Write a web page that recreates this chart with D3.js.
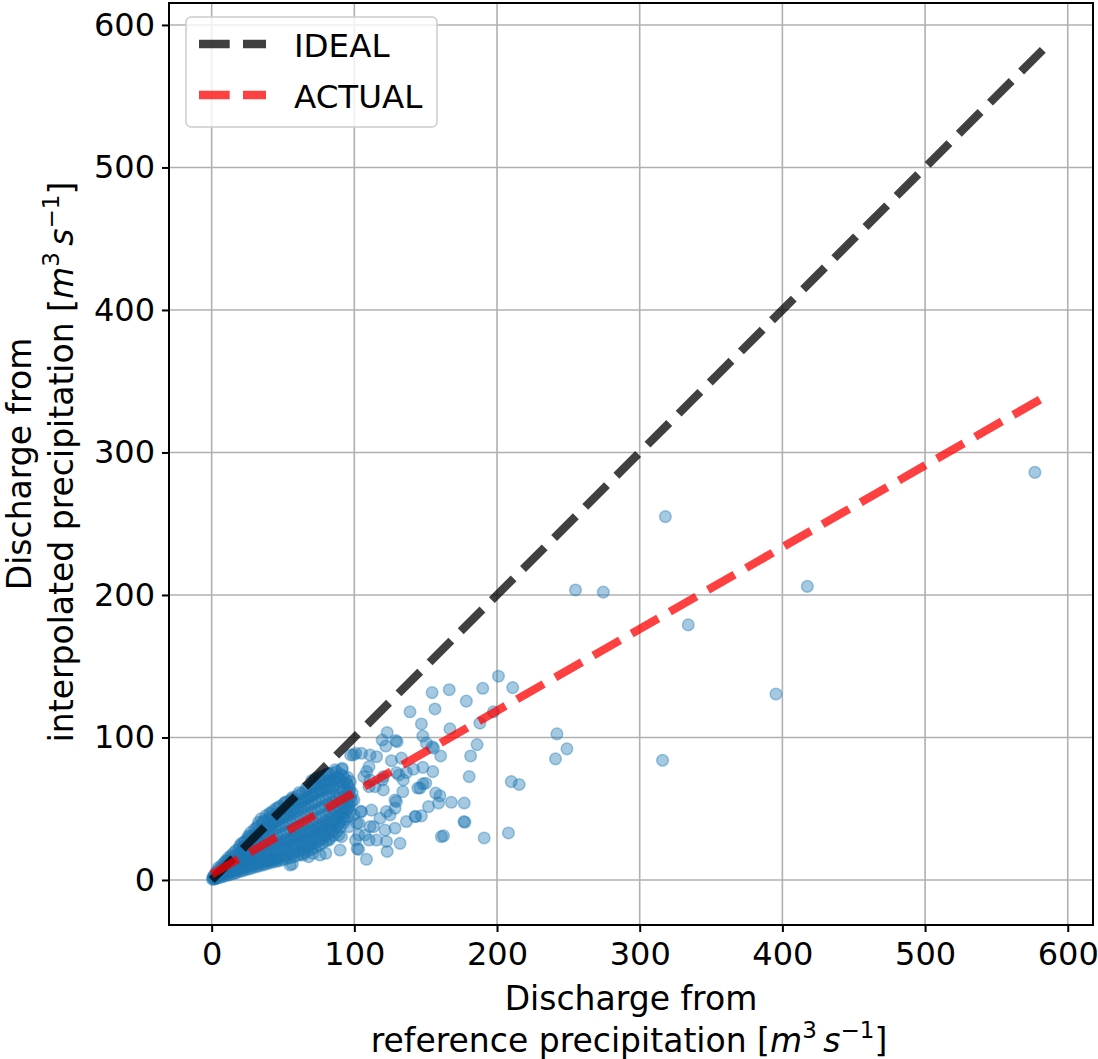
<!DOCTYPE html>
<html>
<head>
<meta charset="utf-8">
<script src="https://cdn.jsdelivr.net/npm/d3@7"></script>
<style>
body { margin: 0; background: #fff; }
text { font-family: "DejaVu Sans", sans-serif; fill: #000; }
</style>
</head>
<body>
<svg width="1098" height="1059"></svg>
<script>
// tick values
var xTicks = [0, 100, 200, 300, 400, 500, 600];
var yTicks = [0, 100, 200, 300, 400, 500, 600];

// fitted lines (start / end in data units)
var idealLine = [[0, 0], [584, 584]];
var actualLine = [[0, 4], [583, 338.5]];

// dense part of the cloud near the origin  [reference, interpolated]
var clusterPts = [
  [0.6,0.4],[1.2,1.1],[1.8,0.7],[0.9,1.9],[2.3,2.6],[1.5,3.1],
  [3.1,1.2],[2.8,2.9],[3.6,4.4],[3.3,5.8],[2.7,0.9],
  [5.2,1.6],[4.8,3.4],[5.5,5.2],[5.1,7.3],[4.6,8.5],
  [7.3,2.1],[6.8,4.2],[7.1,6.3],[7.5,8.4],[6.9,10.1],
  [9.2,2.8],[8.8,4.9],[9.4,7.1],[9.1,9.6],[8.7,11.8],[9.6,13.2],
  [11.3,3.3],[10.9,5.7],[11.5,8.2],[11.2,10.9],[10.8,13.4],[11.6,15.5],
  [13.2,3.9],[12.8,6.4],[13.5,9.1],[13.1,12.0],[12.7,14.6],[13.6,17.2],
  [15.4,4.4],[14.9,7.2],[15.2,10.3],[15.6,13.1],[14.8,16.0],[15.3,18.9],
  [17.1,5.0],[17.4,8.0],[16.8,11.2],[17.3,14.4],[17.6,17.5],[16.9,20.6],
  [19.2,5.8],[18.8,8.6],[19.5,12.0],[19.0,15.3],[19.4,18.6],[18.9,21.8],[19.6,24.0],
  [21.3,6.4],[20.9,9.3],[21.5,12.8],[21.1,16.2],[20.7,19.5],[21.4,22.9],[21.0,25.8],
  [23.2,7.0],[22.8,10.0],[23.4,13.6],[23.0,17.1],[23.6,20.5],[22.9,23.8],[23.3,27.3],
  [25.4,7.6],[24.9,10.6],[25.1,14.3],[25.6,18.0],[24.8,21.7],[25.3,25.1],[25.0,28.6],[25.7,31.0],
  [27.5,8.1],[27.1,11.0],[27.8,15.1],[27.3,19.0],[27.9,22.8],[27.2,26.5],[27.6,30.2],[27.4,33.4],
  [30.1,8.9],[29.7,11.6],[30.4,15.8],[29.9,20.0],[30.3,24.1],[29.8,28.2],[30.5,32.0],[30.0,35.7],
  [32.6,9.6],[32.2,12.3],[32.9,16.7],[32.4,21.0],[32.8,25.3],[32.1,29.6],[32.7,33.8],[32.3,37.9],[32.9,40.5],
  [35.2,10.3],[34.8,12.9],[35.4,17.4],[35.0,21.9],[35.6,26.4],[34.9,30.8],[35.3,35.1],[35.1,39.4],[34.7,43.0],
  [37.6,11.0],[37.2,13.5],[37.9,18.2],[37.4,22.9],[37.8,27.6],[37.1,32.3],[37.7,36.9],[37.3,41.2],[37.9,45.0],
  [40.2,11.8],[39.8,14.1],[40.5,19.0],[40.0,23.8],[40.4,28.7],[39.7,33.5],[40.3,38.2],[40.1,42.8],[40.6,46.9],
  [42.6,12.4],[42.2,14.8],[42.9,19.8],[42.4,24.8],[42.8,29.7],[42.1,34.6],[42.7,39.4],[42.3,44.1],[42.9,48.3],
  [45.3,13.0],[44.8,15.4],[45.5,20.6],[45.0,25.7],[45.4,30.8],[44.9,35.9],[45.2,40.9],[45.6,45.7],[45.1,50.2],
  [47.6,13.6],[47.2,16.1],[47.9,21.4],[47.4,26.6],[47.8,31.8],[47.1,37.0],[47.7,42.2],[47.3,47.2],[47.9,51.8],
  [50.2,14.2],[49.8,16.9],[50.4,22.2],[50.0,27.5],[50.5,32.9],[49.7,38.2],[50.3,43.5],[50.1,48.7],[50.6,53.4],
  [52.6,14.9],[52.2,17.6],[52.8,23.1],[52.4,28.5],[52.9,34.0],[52.1,39.4],[52.7,44.8],[52.3,50.1],[52.8,55.0],
  [55.2,15.6],[54.8,18.4],[55.5,24.0],[55.0,29.5],[55.4,35.1],[54.9,40.6],[55.3,46.1],[55.1,51.5],[55.6,56.3],
  [57.6,16.4],[57.2,19.2],[57.9,24.9],[57.4,30.5],[57.8,36.2],[57.1,41.8],[57.7,47.4],[57.3,52.9],[57.9,57.8],
  [60.3,17.2],[59.8,20.0],[60.5,25.8],[60.0,31.5],[60.4,37.3],[59.7,43.0],[60.2,48.7],[60.6,54.3],[60.1,59.0],
  [62.6,18.1],[62.2,20.9],[62.9,26.7],[62.4,32.5],[62.8,38.4],[62.1,44.2],[62.7,50.0],[62.3,55.7],[62.9,60.6],
  [65.2,19.2],[64.8,22.1],[65.5,27.6],[65.0,33.5],[65.4,39.4],[64.9,45.3],[65.3,51.2],[65.1,57.1],[65.6,62.4],
  [67.6,20.4],[67.2,23.3],[67.9,28.6],[67.4,34.5],[67.8,40.5],[67.1,46.4],[67.7,52.4],[67.3,58.3],[67.9,64.0],
  [70.2,21.6],[69.8,24.6],[70.4,29.8],[70.0,35.6],[70.5,41.6],[69.7,47.6],[70.3,53.6],[70.1,59.5],[70.6,65.5],[70.2,69.8],
  [72.6,22.9],[72.2,25.9],[72.8,31.1],[72.4,36.8],[72.9,42.8],[72.1,48.8],[72.7,54.8],[72.3,60.7],[72.8,66.6],[72.4,71.0],
  [75.3,24.3],[74.8,27.3],[75.5,32.4],[75.0,38.0],[75.4,44.0],[74.9,50.0],[75.2,56.0],[75.6,61.9],[75.1,67.6],[75.4,72.1],
  [77.6,25.8],[77.2,29.0],[77.9,34.0],[77.4,39.4],[77.8,45.2],[77.1,51.1],[77.7,57.0],[77.3,62.8],[77.9,68.4],[77.5,73.0],
  [80.2,27.4],[79.8,30.8],[80.4,35.8],[80.0,41.0],[80.5,46.5],[79.7,52.2],[80.3,58.0],[80.1,63.7],[80.6,69.2],[80.2,73.8],
  [82.6,29.2],[82.2,32.6],[82.8,37.6],[82.4,42.7],[82.9,48.0],[82.1,53.4],[82.7,59.0],[82.3,64.6],[82.8,70.0],[82.5,74.4],
  [85.2,31.0],[84.8,34.5],[85.5,39.4],[85.0,44.4],[85.4,49.5],[84.9,54.7],[85.3,60.0],[85.1,65.4],[85.6,70.7],[85.2,75.0],
  [87.6,33.5],[87.2,37.5],[87.9,42.2],[87.4,47.0],[87.8,51.9],[87.1,56.9],[87.7,62.0],[87.3,67.2],[87.9,72.3],[87.5,76.0],
  [90.2,36.8],[89.8,40.8],[90.4,45.3],[90.0,49.9],[90.5,54.6],[89.7,59.4],[90.3,64.3],[90.1,69.3],[90.6,74.0],
  [92.6,40.1],[92.2,44.6],[92.8,49.2],[92.4,53.8],[92.9,58.5],[92.1,63.4],[92.7,68.4],[92.3,73.0],
  [95.2,44.3],[94.8,48.7],[95.5,53.2],[95.0,57.9],[95.4,62.6],[94.9,67.4],[95.3,72.0],
  [97.1,47.5],[96.8,52.6],[97.3,58.1],[96.9,63.8],[97.2,69.0]
];

// more points read inside the core, between the ones above
var clusterFill = [
  [3.9,2.1],[6.1,3.1],[8.1,4.0],[10.1,4.6],[12.2,5.1],[14.1,5.8],[16.2,6.6],[18.1,7.1],
  [20.2,7.7],[22.1,8.4],[24.2,9.0],[26.3,9.6],[28.8,10.1],[31.3,10.8],[33.8,11.4],[36.3,12.1],
  [38.9,12.8],[41.4,13.4],[43.9,14.0],[46.4,14.6],
  [20.1,14.1],[22.3,15.3],[24.1,16.4],[26.4,17.2],[28.6,18.0],[31.2,18.4],[33.7,19.2],[36.3,20.1],
  [38.7,21.0],[41.3,22.0],[43.8,23.1],[46.3,24.0],[48.7,25.0],[51.3,26.0],[53.8,27.1],[56.2,28.0],
  [58.7,29.1],[61.3,30.0],[63.7,31.0],[66.3,32.0],[68.7,33.1],[71.3,34.1],[73.8,35.3],[76.3,36.6],
  [78.7,37.8],[81.3,39.3],[83.7,40.9],[86.3,42.6],[88.8,44.8],[91.3,46.9],
  [28.7,28.3],[31.2,30.8],[33.8,32.3],[36.2,34.5],[38.7,36.2],[41.2,38.0],[43.8,40.1],[46.3,41.9],
  [48.7,43.8],[51.3,45.6],[53.8,47.4],[56.3,49.2],[58.7,51.0],[61.3,52.8],[63.7,54.6],[66.3,56.4],
  [68.8,58.1],[71.3,59.9],[73.7,61.7],[76.3,63.6],[78.8,65.3],[81.3,67.1],[83.7,68.8],[86.3,70.6],
  [88.8,72.0],
  [22.5,26.0],[26.3,30.5],[31.3,36.1],[36.4,41.6],[41.3,46.3],[46.4,50.6],[51.4,54.5],[56.4,57.8],
  [61.4,61.4],[66.4,64.7],[71.4,68.3],[76.3,71.0],[81.3,74.6],[86.4,77.3],[91.3,77.6],
  [95.8,50.5],[96.2,55.6],[96.0,60.9],[95.9,66.2],[94.0,70.3],[98.5,61.0],[98.2,55.3],
  [53.6,20.5],[58.6,22.1],[63.6,23.8],[68.6,26.1],[73.6,28.6],[78.6,31.5],[83.6,35.8],[88.6,38.9],
  [93.4,42.4]
];

// scattered points outside the dense core
var spreadPts = [
  [577,286],[318,255],[255,203.5],[274.5,202],[417.5,206],[334,179],[395.5,130.5],
  [242,102.5],[249,92],[241,85],[316,84],
  [201,143],[211,135],[190,134.5],[166.5,133.5],[154.5,131.5],[178.5,125.5],[156.5,120],
  [197.5,118],[139,118],[188,110],[147,109.5],[148,101],[167,106],[186,95],[181.5,87],
  [154.5,93.5],[160.5,87],[148,79],[155,76],[180.5,72.5],[148,67.5],[146,64.5],[210,69],
  [215.5,67],[157,61],[160,59],[159,54],[168,54.5],[177,54],[152,51.5],[147,45],[177.5,40.5],
  [162.5,31],[191,29.5],[208,33],
  [123,103.5],[129,97.8],[119.5,98.2],[122,94],[130,97],[133,85.5],[126,83.7],[150.5,96],
  [155.5,92.5],[141.5,77.7],[136.5,75.3],[129.5,75.3],[131.3,73.7],[150,67.9],[144.5,64.5],
  [134,62],[129.5,55],[142.5,44.5],[136.5,41],[128.5,50.3],[125,45.6],[122.5,48],[128.5,36.3],
  [121.5,35],[113.5,37.4],[118,43.3],[107.5,31.6],[115.5,28],[122.5,27],[132,25.7],[161,30.4],
  [103,21.5],[108.5,14.5],[90,21],[91,30.4],[103,31.6],[101.7,39.8],[105,48],[111,37.4],
  [112,49],[114.5,65.5],[120.3,63.2],[120.3,72.5],[111,70.2],[134.3,70.2],[128.5,56],
  [76,17.5],[71,18.7],[64,17.5],[55,10.5],[99.3,87.7],[105,88.9],[111,87.7],[115.6,86.5],
  [108.6,76],[176.8,41],[143,44.5],[123,20],[102,22],[80,18.7],[68,16.4],[56.5,11.2],
  [100.9,88.9],[97.4,87.7],[91.5,78.4],[110.3,79.5],[106.7,72.5],[119.6,70.2],[110.3,65.5],
  [99.7,56],[104.4,48],[99.7,45.6],[103.2,39.8],[96.2,37.4],[89.2,31.6],[82.2,28],[110.3,28],
  [100.9,28]
];

var legendItems = [
  { label: 'IDEAL', color: '#000' },
  { label: 'ACTUAL', color: 'red' }
];

var svg = d3.select('svg');

var plotL = 169, plotR = 1093, plotT = 3, plotB = 925;
var scaleX = d3.scaleLinear().domain([-29.9, 617.7]).range([plotL, plotR]);
var scaleY = d3.scaleLinear().domain([-31.6, 615.4]).range([plotB, plotT]);

// grid
var grid = svg.append('g');
grid.selectAll('.gx').data(xTicks).enter().append('line')
    .attr('x1', function(d){ return scaleX(d); })
    .attr('x2', function(d){ return scaleX(d); })
    .attr('y1', plotT).attr('y2', plotB)
    .attr('stroke', '#b0b0b0').attr('stroke-width', 1.6);
grid.selectAll('.gy').data(yTicks).enter().append('line')
    .attr('y1', function(d){ return scaleY(d); })
    .attr('y2', function(d){ return scaleY(d); })
    .attr('x1', plotL).attr('x2', plotR)
    .attr('stroke', '#b0b0b0').attr('stroke-width', 1.6);

// scatter
svg.append('g').selectAll('circle')
    .data(clusterPts.concat(clusterFill, spreadPts))
    .enter()
    .append('circle')
    .attr('cx', function(d){ return scaleX(d[0]); })
    .attr('cy', function(d){ return scaleY(d[1]); })
    .attr('r', 5.8)
    .attr('fill', '#1f77b4').attr('fill-opacity', 0.4)
    .attr('stroke', '#1f77b4').attr('stroke-opacity', 0.4).attr('stroke-width', 1.5);

// ideal / actual lines
var line = d3.line()
    .x(function(d){ return scaleX(d[0]); })
    .y(function(d){ return scaleY(d[1]); });

[idealLine, actualLine].forEach(function(pts, i){
    svg.append('path')
        .attr('d', line(pts))
        .attr('fill', 'none')
        .attr('stroke', legendItems[i].color)
        .attr('stroke-opacity', 0.75)
        .attr('stroke-width', 8.3)
        .attr('stroke-dasharray', '30.7,13.3');
});

// axes
var xAxis = svg.append('g')
    .attr('transform', 'translate(0,' + plotB + ')')
    .call(d3.axisBottom(scaleX).tickValues(xTicks).tickSize(7).tickSizeOuter(0).tickPadding(10));
var yAxis = svg.append('g')
    .attr('transform', 'translate(' + plotL + ',0)')
    .call(d3.axisLeft(scaleY).tickValues(yTicks).tickSize(7).tickSizeOuter(0).tickPadding(7));

[xAxis, yAxis].forEach(function(ax){
    ax.select('.domain').remove();
    ax.selectAll('line').attr('stroke', '#000').attr('stroke-width', 2);
    ax.selectAll('text')
        .attr('font-family', '"DejaVu Sans", sans-serif')
        .attr('font-size', 32)
        .attr('fill', '#000');
});

// frame
svg.append('rect')
    .attr('x', plotL).attr('y', plotT)
    .attr('width', plotR - plotL).attr('height', plotB - plotT)
    .attr('fill', 'none').attr('stroke', '#000').attr('stroke-width', 2);

// axis titles (two lines each, unit in math style)
function unitLine(t, txt){
    t.append('tspan').text(txt + '[');
    t.append('tspan').attr('font-style', 'italic').text('m');
    t.append('tspan').attr('font-size', 23).attr('dy', -14).text('3');
    t.append('tspan').attr('dy', 14).text('\u2009');
    t.append('tspan').attr('font-style', 'italic').text('s');
    t.append('tspan').attr('font-size', 23).attr('dy', -14).text('\u22121');
    t.append('tspan').attr('dy', 14).text(']');
}

svg.append('text')
    .attr('x', 631).attr('y', 1010)
    .attr('text-anchor', 'middle').attr('font-size', 33)
    .text('Discharge from');
unitLine(svg.append('text')
    .attr('x', 629).attr('y', 1052)
    .attr('text-anchor', 'middle').attr('font-size', 33), 'reference precipitation ');

svg.append('text')
    .attr('transform', 'translate(31,464) rotate(-90)')
    .attr('text-anchor', 'middle').attr('font-size', 33)
    .text('Discharge from');
unitLine(svg.append('text')
    .attr('transform', 'translate(73,462) rotate(-90)')
    .attr('text-anchor', 'middle').attr('font-size', 33), 'interpolated precipitation ');

// legend
var legend = svg.append('g');
legend.append('rect')
    .attr('x', 186).attr('y', 17).attr('width', 251).attr('height', 110)
    .attr('rx', 5).attr('ry', 5)
    .attr('fill', '#fff').attr('fill-opacity', 0.8)
    .attr('stroke', '#cccccc').attr('stroke-width', 1.5);
legendItems.forEach(function(d, i){
    var yy = 44 + i * 51;
    legend.append('line')
        .attr('x1', 199).attr('x2', 266)
        .attr('y1', yy).attr('y2', yy)
        .attr('stroke', d.color).attr('stroke-opacity', 0.75)
        .attr('stroke-width', 8.3)
        .attr('stroke-dasharray', '30.7,13.3');
    legend.append('text')
        .attr('x', 294).attr('y', yy + 13)
        .attr('font-size', 32.5)
        .text(d.label);
});
</script>
</body>
</html>
